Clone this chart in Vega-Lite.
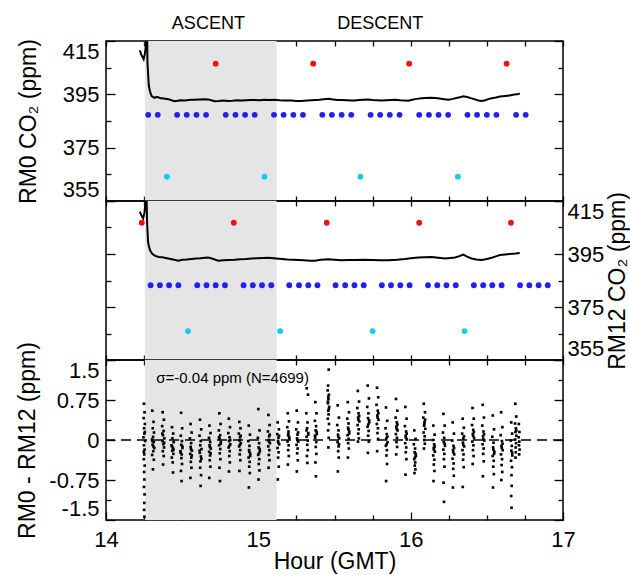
{
"$schema": "https://vega.github.io/schema/vega-lite/v6.json",
"padding": {"left": 16, "top": 13, "right": 0, "bottom": 0},
"bounds": "flush",
"spacing": 0,
"config": {
  "font": "Liberation Sans",
  "view": {"stroke": "black", "strokeWidth": 1.5},
  "axis": {"domain": false, "grid": false, "tickColor": "black", "tickWidth": 1.3, "labelColor": "black", "titleColor": "black", "labelFontSize": 22, "titleFontSize": 23, "titleFontWeight": "normal", "labelOverlap": false, "labelBound": false}
},
"datasets": {
  "phases": [
    {"phase": "ASCENT", "start": 14.255, "end": 15.12, "label_h": 14.672},
    {"phase": "DESCENT", "start": 15.12, "end": 16.72, "label_h": 15.80}
  ],
  "rm0_line": [
    {"h":14.222,"co2":411.5},{"h":14.232,"co2":409.8},{"h":14.247,"co2":408.2},{"h":14.256,"co2":410.5},{"h":14.262,"co2":413.5},{"h":14.266,"co2":417},{"h":14.270,"co2":419},{"h":14.272,"co2":407},{"h":14.281,"co2":398.2},{"h":14.290,"co2":395.8},{"h":14.300,"co2":394.3},{"h":14.317,"co2":393.7},{"h":14.330,"co2":394.0},{"h":14.343,"co2":393.9},{"h":14.360,"co2":393.5},{"h":14.380,"co2":393.4},{"h":14.409,"co2":393.2},{"h":14.430,"co2":392.8},{"h":14.452,"co2":392.4},{"h":14.470,"co2":392.6},{"h":14.490,"co2":392.8},{"h":14.518,"co2":392.7},{"h":14.540,"co2":392.9},{"h":14.560,"co2":393.0},{"h":14.584,"co2":393.0},{"h":14.610,"co2":393.1},{"h":14.640,"co2":393.2},{"h":14.672,"co2":393.1},{"h":14.690,"co2":392.8},{"h":14.715,"co2":392.4},{"h":14.740,"co2":392.5},{"h":14.770,"co2":392.7},{"h":14.803,"co2":392.5},{"h":14.830,"co2":392.6},{"h":14.860,"co2":392.8},{"h":14.890,"co2":392.7},{"h":14.920,"co2":392.8},{"h":14.950,"co2":392.9},{"h":14.978,"co2":392.9},{"h":15.010,"co2":392.8},{"h":15.040,"co2":393.0},{"h":15.070,"co2":392.9},{"h":15.109,"co2":393.0},{"h":15.140,"co2":392.8},{"h":15.170,"co2":392.7},{"h":15.219,"co2":392.7},{"h":15.250,"co2":392.5},{"h":15.284,"co2":392.5},{"h":15.320,"co2":392.7},{"h":15.350,"co2":392.8},{"h":15.372,"co2":392.9},{"h":15.400,"co2":393.0},{"h":15.430,"co2":393.2},{"h":15.460,"co2":393.3},{"h":15.490,"co2":393.1},{"h":15.520,"co2":392.9},{"h":15.547,"co2":392.9},{"h":15.580,"co2":392.8},{"h":15.610,"co2":392.7},{"h":15.634,"co2":392.7},{"h":15.660,"co2":392.9},{"h":15.690,"co2":393.0},{"h":15.722,"co2":393.1},{"h":15.750,"co2":392.9},{"h":15.780,"co2":392.8},{"h":15.809,"co2":392.7},{"h":15.840,"co2":392.8},{"h":15.870,"co2":392.9},{"h":15.897,"co2":393.0},{"h":15.930,"co2":392.8},{"h":15.960,"co2":392.7},{"h":15.985,"co2":392.6},{"h":16.010,"co2":393.0},{"h":16.040,"co2":393.3},{"h":16.072,"co2":393.5},{"h":16.100,"co2":393.6},{"h":16.130,"co2":393.7},{"h":16.160,"co2":393.6},{"h":16.190,"co2":393.4},{"h":16.220,"co2":393.2},{"h":16.248,"co2":393.0},{"h":16.270,"co2":393.2},{"h":16.300,"co2":393.6},{"h":16.330,"co2":394.0},{"h":16.346,"co2":394.3},{"h":16.370,"co2":394.0},{"h":16.400,"co2":393.5},{"h":16.422,"co2":393.1},{"h":16.445,"co2":392.7},{"h":16.466,"co2":392.5},{"h":16.490,"co2":392.8},{"h":16.510,"co2":393.2},{"h":16.532,"co2":393.5},{"h":16.560,"co2":393.8},{"h":16.586,"co2":394.2},{"h":16.620,"co2":394.4},{"h":16.650,"co2":394.6},{"h":16.680,"co2":394.9},{"h":16.700,"co2":395.0},{"h":16.716,"co2":395.3}
  ],
  "rm12_line": [
    {"h":14.222,"co2":411.0},{"h":14.233,"co2":409.5},{"h":14.244,"co2":408.4},{"h":14.252,"co2":410.5},{"h":14.258,"co2":413.5},{"h":14.262,"co2":416},{"h":14.266,"co2":417},{"h":14.270,"co2":406.5},{"h":14.276,"co2":399.6},{"h":14.282,"co2":397.8},{"h":14.290,"co2":396.3},{"h":14.302,"co2":395.2},{"h":14.320,"co2":394.4},{"h":14.345,"co2":393.9},{"h":14.370,"co2":393.8},{"h":14.400,"co2":393.4},{"h":14.440,"co2":392.9},{"h":14.475,"co2":392.5},{"h":14.500,"co2":392.8},{"h":14.530,"co2":392.9},{"h":14.562,"co2":393.1},{"h":14.590,"co2":393.3},{"h":14.620,"co2":393.4},{"h":14.650,"co2":393.6},{"h":14.672,"co2":393.7},{"h":14.700,"co2":393.2},{"h":14.737,"co2":392.5},{"h":14.770,"co2":392.6},{"h":14.800,"co2":392.7},{"h":14.846,"co2":392.8},{"h":14.880,"co2":393.0},{"h":14.920,"co2":393.1},{"h":14.956,"co2":393.3},{"h":14.990,"co2":393.4},{"h":15.030,"co2":393.5},{"h":15.066,"co2":393.6},{"h":15.100,"co2":393.4},{"h":15.153,"co2":393.1},{"h":15.190,"co2":392.9},{"h":15.230,"co2":392.8},{"h":15.263,"co2":392.7},{"h":15.300,"co2":392.6},{"h":15.340,"co2":392.5},{"h":15.372,"co2":392.5},{"h":15.410,"co2":392.8},{"h":15.460,"co2":393.0},{"h":15.500,"co2":392.8},{"h":15.547,"co2":392.6},{"h":15.590,"co2":392.7},{"h":15.634,"co2":392.7},{"h":15.690,"co2":392.8},{"h":15.744,"co2":392.7},{"h":15.800,"co2":392.6},{"h":15.854,"co2":392.6},{"h":15.910,"co2":392.8},{"h":15.963,"co2":393.1},{"h":16.000,"co2":393.4},{"h":16.051,"co2":393.7},{"h":16.090,"co2":393.8},{"h":16.138,"co2":393.9},{"h":16.180,"co2":393.6},{"h":16.225,"co2":393.3},{"h":16.260,"co2":393.5},{"h":16.291,"co2":393.7},{"h":16.320,"co2":394.2},{"h":16.346,"co2":394.8},{"h":16.370,"co2":394.0},{"h":16.400,"co2":393.3},{"h":16.430,"co2":392.9},{"h":16.466,"co2":392.7},{"h":16.500,"co2":393.1},{"h":16.532,"co2":393.6},{"h":16.560,"co2":394.1},{"h":16.586,"co2":394.6},{"h":16.620,"co2":394.8},{"h":16.650,"co2":395.0},{"h":16.690,"co2":395.2},{"h":16.716,"co2":395.4}
  ],
  "cal": [
    {"analyzer":"RM0","tank":"high","h":14.72,"co2":406.5},{"analyzer":"RM0","tank":"high","h":15.36,"co2":406.5},{"analyzer":"RM0","tank":"high","h":15.99,"co2":406.5},{"analyzer":"RM0","tank":"high","h":16.63,"co2":406.5},
    {"analyzer":"RM0","tank":"low","h":14.40,"co2":364.1},{"analyzer":"RM0","tank":"low","h":15.04,"co2":364.1},{"analyzer":"RM0","tank":"low","h":15.67,"co2":364.1},{"analyzer":"RM0","tank":"low","h":16.31,"co2":364.1},
    {"analyzer":"RM0","tank":"ref","h":14.277,"co2":387.3},{"analyzer":"RM0","tank":"ref","h":14.340,"co2":387.3},{"analyzer":"RM0","tank":"ref","h":14.467,"co2":387.3},{"analyzer":"RM0","tank":"ref","h":14.530,"co2":387.3},{"analyzer":"RM0","tank":"ref","h":14.594,"co2":387.3},{"analyzer":"RM0","tank":"ref","h":14.657,"co2":387.3},{"analyzer":"RM0","tank":"ref","h":14.786,"co2":387.3},{"analyzer":"RM0","tank":"ref","h":14.850,"co2":387.3},{"analyzer":"RM0","tank":"ref","h":14.913,"co2":387.3},{"analyzer":"RM0","tank":"ref","h":14.976,"co2":387.3},{"analyzer":"RM0","tank":"ref","h":15.103,"co2":387.3},{"analyzer":"RM0","tank":"ref","h":15.166,"co2":387.3},{"analyzer":"RM0","tank":"ref","h":15.230,"co2":387.3},{"analyzer":"RM0","tank":"ref","h":15.293,"co2":387.3},{"analyzer":"RM0","tank":"ref","h":15.420,"co2":387.3},{"analyzer":"RM0","tank":"ref","h":15.483,"co2":387.3},{"analyzer":"RM0","tank":"ref","h":15.547,"co2":387.3},{"analyzer":"RM0","tank":"ref","h":15.610,"co2":387.3},{"analyzer":"RM0","tank":"ref","h":15.737,"co2":387.3},{"analyzer":"RM0","tank":"ref","h":15.800,"co2":387.3},{"analyzer":"RM0","tank":"ref","h":15.863,"co2":387.3},{"analyzer":"RM0","tank":"ref","h":15.927,"co2":387.3},{"analyzer":"RM0","tank":"ref","h":16.056,"co2":387.3},{"analyzer":"RM0","tank":"ref","h":16.120,"co2":387.3},{"analyzer":"RM0","tank":"ref","h":16.183,"co2":387.3},{"analyzer":"RM0","tank":"ref","h":16.246,"co2":387.3},{"analyzer":"RM0","tank":"ref","h":16.373,"co2":387.3},{"analyzer":"RM0","tank":"ref","h":16.436,"co2":387.3},{"analyzer":"RM0","tank":"ref","h":16.500,"co2":387.3},{"analyzer":"RM0","tank":"ref","h":16.563,"co2":387.3},{"analyzer":"RM0","tank":"ref","h":16.692,"co2":387.3},{"analyzer":"RM0","tank":"ref","h":16.755,"co2":387.3},
    {"analyzer":"RM12","tank":"high","h":14.235,"co2":406.8},{"analyzer":"RM12","tank":"high","h":14.839,"co2":406.8},{"analyzer":"RM12","tank":"high","h":15.449,"co2":406.8},{"analyzer":"RM12","tank":"high","h":16.056,"co2":406.8},{"analyzer":"RM12","tank":"high","h":16.658,"co2":406.8},
    {"analyzer":"RM12","tank":"low","h":14.538,"co2":365.9},{"analyzer":"RM12","tank":"low","h":15.143,"co2":365.9},{"analyzer":"RM12","tank":"low","h":15.750,"co2":365.9},{"analyzer":"RM12","tank":"low","h":16.354,"co2":365.9},
    {"analyzer":"RM12","tank":"ref","h":14.293,"co2":383.2},{"analyzer":"RM12","tank":"ref","h":14.354,"co2":383.2},{"analyzer":"RM12","tank":"ref","h":14.414,"co2":383.2},{"analyzer":"RM12","tank":"ref","h":14.475,"co2":383.2},{"analyzer":"RM12","tank":"ref","h":14.599,"co2":383.2},{"analyzer":"RM12","tank":"ref","h":14.660,"co2":383.2},{"analyzer":"RM12","tank":"ref","h":14.720,"co2":383.2},{"analyzer":"RM12","tank":"ref","h":14.781,"co2":383.2},{"analyzer":"RM12","tank":"ref","h":14.903,"co2":383.2},{"analyzer":"RM12","tank":"ref","h":14.964,"co2":383.2},{"analyzer":"RM12","tank":"ref","h":15.024,"co2":383.2},{"analyzer":"RM12","tank":"ref","h":15.085,"co2":383.2},{"analyzer":"RM12","tank":"ref","h":15.203,"co2":383.2},{"analyzer":"RM12","tank":"ref","h":15.267,"co2":383.2},{"analyzer":"RM12","tank":"ref","h":15.328,"co2":383.2},{"analyzer":"RM12","tank":"ref","h":15.388,"co2":383.2},{"analyzer":"RM12","tank":"ref","h":15.507,"co2":383.2},{"analyzer":"RM12","tank":"ref","h":15.570,"co2":383.2},{"analyzer":"RM12","tank":"ref","h":15.631,"co2":383.2},{"analyzer":"RM12","tank":"ref","h":15.692,"co2":383.2},{"analyzer":"RM12","tank":"ref","h":15.811,"co2":383.2},{"analyzer":"RM12","tank":"ref","h":15.871,"co2":383.2},{"analyzer":"RM12","tank":"ref","h":15.932,"co2":383.2},{"analyzer":"RM12","tank":"ref","h":15.993,"co2":383.2},{"analyzer":"RM12","tank":"ref","h":16.114,"co2":383.2},{"analyzer":"RM12","tank":"ref","h":16.175,"co2":383.2},{"analyzer":"RM12","tank":"ref","h":16.235,"co2":383.2},{"analyzer":"RM12","tank":"ref","h":16.296,"co2":383.2},{"analyzer":"RM12","tank":"ref","h":16.415,"co2":383.2},{"analyzer":"RM12","tank":"ref","h":16.476,"co2":383.2},{"analyzer":"RM12","tank":"ref","h":16.536,"co2":383.2},{"analyzer":"RM12","tank":"ref","h":16.597,"co2":383.2},{"analyzer":"RM12","tank":"ref","h":16.718,"co2":383.2},{"analyzer":"RM12","tank":"ref","h":16.779,"co2":383.2},{"analyzer":"RM12","tank":"ref","h":16.840,"co2":383.2},{"analyzer":"RM12","tank":"ref","h":16.900,"co2":383.2}
  ],
  "zero": [{"d": 0}],
  "note": [{"label": "σ=-0.04 ppm (N=4699)"}],
  "diff": [
    {"h":14.249,"d":0.68},{"h":14.253,"d":0.52},{"h":14.247,"d":0.41},{"h":14.255,"d":0.30},{"h":14.250,"d":0.22},{"h":14.252,"d":0.12},{"h":14.246,"d":0.05},{"h":14.256,"d":-0.02},{"h":14.249,"d":-0.10},{"h":14.253,"d":-0.18},{"h":14.251,"d":-0.27},{"h":14.248,"d":-0.36},{"h":14.254,"d":-0.48},{"h":14.250,"d":-0.60},{"h":14.252,"d":-0.74},{"h":14.249,"d":-0.88},{"h":14.253,"d":-1.02},{"h":14.251,"d":-1.18},{"h":14.250,"d":-1.31},{"h":14.252,"d":-1.44},{"h":14.248,"d":-0.22},{"h":14.255,"d":0.15},
    {"h":14.304,"d":0.55},{"h":14.312,"d":0.34},{"h":14.307,"d":0.22},{"h":14.315,"d":0.14},{"h":14.309,"d":0.06},{"h":14.302,"d":0.01},{"h":14.313,"d":-0.04},{"h":14.306,"d":-0.09},{"h":14.317,"d":-0.15},{"h":14.310,"d":-0.21},{"h":14.303,"d":-0.28},{"h":14.314,"d":-0.37},{"h":14.308,"d":-0.55},{"h":14.311,"d":-0.12},{"h":14.305,"d":-0.02},
    {"h":14.372,"d":0.52},{"h":14.380,"d":0.38},{"h":14.369,"d":0.26},{"h":14.378,"d":0.17},{"h":14.374,"d":0.09},{"h":14.383,"d":0.03},{"h":14.371,"d":-0.02},{"h":14.377,"d":-0.08},{"h":14.381,"d":-0.14},{"h":14.373,"d":-0.21},{"h":14.379,"d":-0.30},{"h":14.375,"d":-0.46},{"h":14.370,"d":0.12},{"h":14.382,"d":-0.05},
    {"h":14.433,"d":0.24},{"h":14.441,"d":0.12},{"h":14.436,"d":0.03},{"h":14.444,"d":-0.04},{"h":14.430,"d":-0.10},{"h":14.439,"d":-0.15},{"h":14.435,"d":-0.20},{"h":14.442,"d":-0.26},{"h":14.432,"d":-0.33},{"h":14.438,"d":-0.42},{"h":14.440,"d":-0.61},{"h":14.434,"d":-0.12},{"h":14.443,"d":-0.18},
    {"h":14.493,"d":0.51},{"h":14.500,"d":0.22},{"h":14.491,"d":0.08},{"h":14.498,"d":-0.02},{"h":14.494,"d":-0.09},{"h":14.502,"d":-0.15},{"h":14.489,"d":-0.21},{"h":14.497,"d":-0.27},{"h":14.495,"d":-0.34},{"h":14.499,"d":-0.45},{"h":14.492,"d":-0.58},{"h":14.496,"d":-0.77},{"h":14.501,"d":-0.12},{"h":14.490,"d":-0.24},
    {"h":14.555,"d":0.30},{"h":14.562,"d":0.14},{"h":14.551,"d":0.03},{"h":14.559,"d":-0.06},{"h":14.556,"d":-0.13},{"h":14.564,"d":-0.20},{"h":14.553,"d":-0.26},{"h":14.560,"d":-0.33},{"h":14.557,"d":-0.41},{"h":14.561,"d":-0.52},{"h":14.554,"d":-0.71},{"h":14.558,"d":-0.17},{"h":14.563,"d":-0.29},
    {"h":14.617,"d":0.38},{"h":14.625,"d":0.20},{"h":14.614,"d":0.08},{"h":14.622,"d":-0.02},{"h":14.619,"d":-0.10},{"h":14.627,"d":-0.17},{"h":14.616,"d":-0.24},{"h":14.623,"d":-0.31},{"h":14.620,"d":-0.40},{"h":14.618,"d":-0.52},{"h":14.624,"d":-0.66},{"h":14.621,"d":-0.86},{"h":14.615,"d":-0.20},{"h":14.626,"d":-0.35},
    {"h":14.679,"d":0.27},{"h":14.686,"d":0.13},{"h":14.676,"d":0.04},{"h":14.684,"d":-0.04},{"h":14.680,"d":-0.10},{"h":14.688,"d":-0.16},{"h":14.677,"d":-0.22},{"h":14.683,"d":-0.29},{"h":14.681,"d":-0.38},{"h":14.685,"d":-0.50},{"h":14.678,"d":-0.71},{"h":14.682,"d":-0.13},{"h":14.687,"d":-0.25},
    {"h":14.744,"d":0.50},{"h":14.752,"d":0.30},{"h":14.741,"d":0.18},{"h":14.749,"d":0.09},{"h":14.746,"d":0.02},{"h":14.754,"d":-0.04},{"h":14.743,"d":-0.10},{"h":14.750,"d":-0.17},{"h":14.747,"d":-0.25},{"h":14.751,"d":-0.36},{"h":14.745,"d":-0.52},{"h":14.748,"d":-0.77},{"h":14.753,"d":-0.07},{"h":14.742,"d":0.05},
    {"h":14.806,"d":0.40},{"h":14.814,"d":0.24},{"h":14.803,"d":0.13},{"h":14.811,"d":0.05},{"h":14.808,"d":-0.02},{"h":14.816,"d":-0.08},{"h":14.805,"d":-0.14},{"h":14.812,"d":-0.21},{"h":14.809,"d":-0.30},{"h":14.813,"d":-0.42},{"h":14.807,"d":-0.59},{"h":14.810,"d":-0.11},{"h":14.815,"d":0.00},
    {"h":14.875,"d":0.34},{"h":14.883,"d":0.22},{"h":14.872,"d":0.12},{"h":14.880,"d":0.05},{"h":14.877,"d":-0.01},{"h":14.885,"d":-0.06},{"h":14.874,"d":-0.12},{"h":14.881,"d":-0.19},{"h":14.878,"d":-0.27},{"h":14.882,"d":-0.38},{"h":14.876,"d":-0.58},{"h":14.879,"d":-0.09},{"h":14.884,"d":0.08},
    {"h":14.937,"d":0.27},{"h":14.945,"d":0.10},{"h":14.934,"d":-0.02},{"h":14.942,"d":-0.11},{"h":14.939,"d":-0.19},{"h":14.947,"d":-0.26},{"h":14.936,"d":-0.33},{"h":14.943,"d":-0.41},{"h":14.940,"d":-0.50},{"h":14.944,"d":-0.62},{"h":14.938,"d":-0.89},{"h":14.941,"d":-0.22},{"h":14.946,"d":-0.30},
    {"h":15.000,"d":0.58},{"h":15.008,"d":0.18},{"h":14.997,"d":0.04},{"h":15.005,"d":-0.06},{"h":15.002,"d":-0.14},{"h":15.010,"d":-0.21},{"h":14.999,"d":-0.28},{"h":15.006,"d":-0.36},{"h":15.003,"d":-0.45},{"h":15.007,"d":-0.57},{"h":15.001,"d":-0.74},{"h":15.004,"d":-0.25},{"h":15.009,"d":-0.17},
    {"h":15.066,"d":0.47},{"h":15.074,"d":0.28},{"h":15.063,"d":0.16},{"h":15.071,"d":0.07},{"h":15.068,"d":0.00},{"h":15.076,"d":-0.06},{"h":15.065,"d":-0.12},{"h":15.072,"d":-0.19},{"h":15.069,"d":-0.28},{"h":15.073,"d":-0.38},{"h":15.067,"d":-0.52},{"h":15.070,"d":-0.03},{"h":15.075,"d":0.10},
    {"h":15.127,"d":0.33},{"h":15.135,"d":0.20},{"h":15.124,"d":0.11},{"h":15.132,"d":0.04},{"h":15.129,"d":-0.02},{"h":15.137,"d":-0.08},{"h":15.126,"d":-0.15},{"h":15.133,"d":-0.23},{"h":15.130,"d":-0.33},{"h":15.134,"d":-0.50},{"h":15.128,"d":-0.74},{"h":15.131,"d":-0.05},{"h":15.136,"d":0.08},
    {"h":15.193,"d":0.50},{"h":15.201,"d":0.35},{"h":15.190,"d":0.24},{"h":15.198,"d":0.16},{"h":15.195,"d":0.09},{"h":15.203,"d":0.03},{"h":15.192,"d":-0.03},{"h":15.199,"d":-0.10},{"h":15.196,"d":-0.19},{"h":15.200,"d":-0.30},{"h":15.194,"d":-0.46},{"h":15.197,"d":0.12},{"h":15.202,"d":0.06},
    {"h":15.252,"d":0.55},{"h":15.260,"d":0.33},{"h":15.249,"d":0.20},{"h":15.257,"d":0.10},{"h":15.254,"d":0.03},{"h":15.262,"d":-0.03},{"h":15.251,"d":-0.09},{"h":15.258,"d":-0.16},{"h":15.255,"d":-0.25},{"h":15.259,"d":-0.38},{"h":15.253,"d":-0.59},{"h":15.256,"d":0.00},{"h":15.261,"d":0.14},
    {"h":15.318,"d":0.97},{"h":15.326,"d":0.85},{"h":15.315,"d":0.50},{"h":15.323,"d":0.33},{"h":15.320,"d":0.22},{"h":15.328,"d":0.13},{"h":15.317,"d":0.06},{"h":15.324,"d":-0.01},{"h":15.321,"d":-0.09},{"h":15.325,"d":-0.19},{"h":15.319,"d":-0.30},{"h":15.322,"d":-0.43},{"h":15.327,"d":0.10},{"h":15.316,"d":0.18},
    {"h":15.374,"d":0.71},{"h":15.382,"d":0.50},{"h":15.371,"d":0.36},{"h":15.379,"d":0.26},{"h":15.376,"d":0.18},{"h":15.384,"d":0.11},{"h":15.373,"d":0.04},{"h":15.380,"d":-0.04},{"h":15.377,"d":-0.13},{"h":15.381,"d":-0.26},{"h":15.375,"d":-0.42},{"h":15.378,"d":-0.68},{"h":15.383,"d":0.15},{"h":15.372,"d":0.08},
    {"h":15.462,"d":1.32},{"h":15.458,"d":1.02},{"h":15.455,"d":0.93},{"h":15.463,"d":0.85},{"h":15.460,"d":0.77},{"h":15.457,"d":0.69},{"h":15.465,"d":0.62},{"h":15.459,"d":0.55},{"h":15.461,"d":0.48},{"h":15.456,"d":0.40},{"h":15.464,"d":0.30},{"h":15.458,"d":0.18},{"h":15.462,"d":0.04},{"h":15.460,"d":-0.14},{"h":15.457,"d":0.72},{"h":15.463,"d":0.58},{"h":15.459,"d":0.81},
    {"h":15.521,"d":0.65},{"h":15.529,"d":0.42},{"h":15.518,"d":0.28},{"h":15.526,"d":0.18},{"h":15.523,"d":0.10},{"h":15.531,"d":0.03},{"h":15.520,"d":-0.04},{"h":15.527,"d":-0.12},{"h":15.524,"d":-0.21},{"h":15.528,"d":-0.33},{"h":15.522,"d":-0.59},{"h":15.525,"d":0.06},{"h":15.530,"d":-0.08},
    {"h":15.587,"d":0.71},{"h":15.595,"d":0.52},{"h":15.584,"d":0.40},{"h":15.592,"d":0.31},{"h":15.589,"d":0.23},{"h":15.597,"d":0.16},{"h":15.586,"d":0.09},{"h":15.593,"d":0.02},{"h":15.590,"d":-0.06},{"h":15.594,"d":-0.16},{"h":15.588,"d":-0.33},{"h":15.591,"d":0.20},{"h":15.596,"d":0.12},
    {"h":15.653,"d":0.92},{"h":15.661,"d":0.72},{"h":15.650,"d":0.60},{"h":15.658,"d":0.50},{"h":15.655,"d":0.42},{"h":15.663,"d":0.35},{"h":15.652,"d":0.28},{"h":15.659,"d":0.20},{"h":15.656,"d":0.12},{"h":15.660,"d":0.03},{"h":15.654,"d":-0.03},{"h":15.657,"d":0.38},{"h":15.662,"d":0.45},
    {"h":15.718,"d":1.02},{"h":15.726,"d":0.78},{"h":15.715,"d":0.62},{"h":15.723,"d":0.50},{"h":15.720,"d":0.41},{"h":15.728,"d":0.33},{"h":15.717,"d":0.25},{"h":15.724,"d":0.17},{"h":15.721,"d":0.08},{"h":15.725,"d":-0.03},{"h":15.719,"d":-0.24},{"h":15.722,"d":0.29},{"h":15.727,"d":0.37},
    {"h":15.779,"d":0.98},{"h":15.787,"d":0.80},{"h":15.776,"d":0.66},{"h":15.784,"d":0.55},{"h":15.781,"d":0.46},{"h":15.789,"d":0.38},{"h":15.778,"d":0.30},{"h":15.785,"d":0.22},{"h":15.782,"d":0.13},{"h":15.786,"d":0.02},{"h":15.780,"d":-0.21},{"h":15.783,"d":0.42},{"h":15.788,"d":0.50},
    {"h":15.838,"d":0.61},{"h":15.846,"d":0.36},{"h":15.835,"d":0.22},{"h":15.843,"d":0.11},{"h":15.840,"d":0.03},{"h":15.848,"d":-0.04},{"h":15.837,"d":-0.11},{"h":15.844,"d":-0.19},{"h":15.841,"d":-0.29},{"h":15.845,"d":-0.45},{"h":15.839,"d":-0.77},{"h":15.842,"d":-0.08},{"h":15.847,"d":0.06},
    {"h":15.904,"d":0.77},{"h":15.912,"d":0.55},{"h":15.901,"d":0.42},{"h":15.909,"d":0.33},{"h":15.906,"d":0.25},{"h":15.914,"d":0.18},{"h":15.903,"d":0.11},{"h":15.910,"d":0.04},{"h":15.907,"d":-0.04},{"h":15.911,"d":-0.13},{"h":15.905,"d":-0.27},{"h":15.908,"d":0.21},{"h":15.913,"d":0.29},
    {"h":15.965,"d":0.62},{"h":15.973,"d":0.40},{"h":15.962,"d":0.26},{"h":15.970,"d":0.16},{"h":15.967,"d":0.08},{"h":15.975,"d":0.01},{"h":15.964,"d":-0.06},{"h":15.971,"d":-0.14},{"h":15.968,"d":-0.23},{"h":15.972,"d":-0.36},{"h":15.966,"d":-0.65},{"h":15.969,"d":0.04},{"h":15.974,"d":0.12},
    {"h":16.024,"d":0.18},{"h":16.032,"d":0.02},{"h":16.021,"d":-0.08},{"h":16.029,"d":-0.16},{"h":16.026,"d":-0.23},{"h":16.034,"d":-0.30},{"h":16.023,"d":-0.36},{"h":16.030,"d":-0.42},{"h":16.027,"d":-0.48},{"h":16.031,"d":-0.55},{"h":16.025,"d":-0.62},{"h":16.028,"d":-0.33},{"h":16.033,"d":-0.26},
    {"h":16.086,"d":0.68},{"h":16.094,"d":0.52},{"h":16.083,"d":0.42},{"h":16.091,"d":0.34},{"h":16.088,"d":0.27},{"h":16.096,"d":0.21},{"h":16.085,"d":0.14},{"h":16.092,"d":0.07},{"h":16.089,"d":0.00},{"h":16.093,"d":-0.07},{"h":16.087,"d":-0.16},{"h":16.090,"d":0.30},{"h":16.095,"d":0.38},
    {"h":16.149,"d":0.27},{"h":16.157,"d":0.10},{"h":16.146,"d":0.00},{"h":16.154,"d":-0.08},{"h":16.151,"d":-0.15},{"h":16.159,"d":-0.22},{"h":16.148,"d":-0.29},{"h":16.155,"d":-0.37},{"h":16.152,"d":-0.46},{"h":16.156,"d":-0.58},{"h":16.150,"d":-0.77},{"h":16.153,"d":-0.18},{"h":16.158,"d":-0.12},
    {"h":16.215,"d":0.49},{"h":16.223,"d":0.27},{"h":16.212,"d":0.14},{"h":16.220,"d":0.04},{"h":16.217,"d":-0.04},{"h":16.225,"d":-0.11},{"h":16.214,"d":-0.18},{"h":16.221,"d":-0.26},{"h":16.218,"d":-0.36},{"h":16.222,"d":-0.50},{"h":16.216,"d":-0.80},{"h":16.219,"d":-1.16},{"h":16.224,"d":-0.07},
    {"h":16.276,"d":0.33},{"h":16.284,"d":0.12},{"h":16.273,"d":-0.01},{"h":16.281,"d":-0.11},{"h":16.278,"d":-0.19},{"h":16.286,"d":-0.27},{"h":16.275,"d":-0.35},{"h":16.282,"d":-0.44},{"h":16.279,"d":-0.54},{"h":16.283,"d":-0.67},{"h":16.277,"d":-0.89},{"h":16.280,"d":-0.23},{"h":16.285,"d":-0.15},
    {"h":16.341,"d":0.40},{"h":16.349,"d":0.23},{"h":16.338,"d":0.12},{"h":16.346,"d":0.03},{"h":16.343,"d":-0.05},{"h":16.351,"d":-0.12},{"h":16.340,"d":-0.19},{"h":16.347,"d":-0.27},{"h":16.344,"d":-0.37},{"h":16.348,"d":-0.51},{"h":16.342,"d":-0.88},{"h":16.345,"d":-0.09},{"h":16.350,"d":0.07},
    {"h":16.406,"d":0.60},{"h":16.414,"d":0.40},{"h":16.403,"d":0.28},{"h":16.411,"d":0.19},{"h":16.408,"d":0.11},{"h":16.416,"d":0.04},{"h":16.405,"d":-0.03},{"h":16.412,"d":-0.10},{"h":16.409,"d":-0.19},{"h":16.413,"d":-0.30},{"h":16.407,"d":-0.45},{"h":16.410,"d":0.08},{"h":16.415,"d":0.15},
    {"h":16.473,"d":0.66},{"h":16.481,"d":0.42},{"h":16.470,"d":0.27},{"h":16.478,"d":0.16},{"h":16.475,"d":0.07},{"h":16.483,"d":-0.01},{"h":16.472,"d":-0.08},{"h":16.479,"d":-0.16},{"h":16.476,"d":-0.26},{"h":16.480,"d":-0.40},{"h":16.474,"d":-0.68},{"h":16.477,"d":0.02},{"h":16.482,"d":0.11},
    {"h":16.539,"d":0.46},{"h":16.547,"d":0.20},{"h":16.536,"d":0.06},{"h":16.544,"d":-0.05},{"h":16.541,"d":-0.14},{"h":16.549,"d":-0.22},{"h":16.538,"d":-0.30},{"h":16.545,"d":-0.39},{"h":16.542,"d":-0.50},{"h":16.546,"d":-0.64},{"h":16.540,"d":-0.89},{"h":16.543,"d":-0.18},{"h":16.548,"d":-0.26},
    {"h":16.594,"d":0.52},{"h":16.602,"d":0.24},{"h":16.591,"d":0.09},{"h":16.599,"d":-0.02},{"h":16.596,"d":-0.11},{"h":16.604,"d":-0.19},{"h":16.593,"d":-0.27},{"h":16.600,"d":-0.36},{"h":16.597,"d":-0.47},{"h":16.601,"d":-0.60},{"h":16.595,"d":-0.75},{"h":16.598,"d":-0.15},{"h":16.603,"d":-0.07},
    {"h":16.660,"d":0.33},{"h":16.666,"d":0.12},{"h":16.657,"d":-0.01},{"h":16.664,"d":-0.11},{"h":16.661,"d":-0.20},{"h":16.667,"d":-0.29},{"h":16.659,"d":-0.39},{"h":16.665,"d":-0.51},{"h":16.662,"d":-0.66},{"h":16.663,"d":-0.86},{"h":16.660,"d":-1.05},{"h":16.662,"d":-1.27},{"h":16.666,"d":-0.24},
    {"h":16.687,"d":0.68},{"h":16.693,"d":0.44},{"h":16.685,"d":0.31},{"h":16.691,"d":0.22},{"h":16.688,"d":0.15},{"h":16.694,"d":0.08},{"h":16.686,"d":0.01},{"h":16.692,"d":-0.06},{"h":16.689,"d":-0.14},{"h":16.690,"d":-0.23},{"h":16.688,"d":-0.33},{"h":16.693,"d":0.18},
    {"h":16.710,"d":0.30},{"h":16.714,"d":0.15},{"h":16.709,"d":0.05},{"h":16.713,"d":-0.03},{"h":16.711,"d":-0.10},{"h":16.715,"d":-0.18},{"h":16.712,"d":-0.27}
  ]
},
"vconcat": [
  {
    "width": 457, "height": 160,
    "resolve": {"axis": {"x": "independent", "y": "independent"}},
    "layer": [
      {
        "data": {"name": "phases"},
        "transform": [{"filter": "datum.phase == 'ASCENT'"}],
        "mark": {"type": "rect", "color": "#e5e5e5"},
        "encoding": {
          "x": {"field": "start", "type": "quantitative", "scale": {"domain": [14, 17], "nice": false},
                "axis": {"orient": "top", "values": [14,14.25,14.5,14.75,15,15.25,15.5,15.75,16,16.25,16.5,16.75,17], "labels": false, "title": null, "tickSize": -5}},
          "x2": {"field": "end"}
        }
      },
      {
        "data": {"name": "phases"},
        "mark": {"type": "text", "fontSize": 18, "baseline": "middle", "align": "center", "color": "black"},
        "encoding": {
          "x": {"field": "label_h", "type": "quantitative", "scale": {"domain": [14, 17], "nice": false}, "axis": null},
          "y": {"datum": 421.5, "type": "quantitative", "scale": {"domain": [355, 415], "nice": false}, "axis": null},
          "text": {"field": "phase"}
        }
      },
      {
        "data": {"name": "rm0_line"},
        "mark": {"type": "line", "color": "black", "strokeWidth": 2, "clip": true},
        "encoding": {
          "x": {"field": "h", "type": "quantitative", "scale": {"domain": [14, 17], "nice": false},
                "axis": {"orient": "bottom", "values": [14,14.25,14.5,14.75,15,15.25,15.5,15.75,16,16.25,16.5,16.75,17], "labels": false, "title": null, "tickSize": -5}},
          "y": {"field": "co2", "type": "quantitative", "scale": {"domain": [355, 415], "nice": false},
                "axis": {"orient": "left", "values": [355,365,375,385,395,405,415],
                         "tickSize": {"condition": {"test": "datum.value % 20 == 15", "value": -9}, "value": -5},
                         "labelExpr": "datum.value % 20 == 15 ? '' + datum.value : ''",
                         "labelFlush": true, "labelPadding": 16, "title": "RM0 CO₂ (ppm)", "titlePadding": 22}}
        }
      },
      {
        "data": {"name": "cal"},
        "transform": [{"filter": "datum.analyzer == 'RM0'"}],
        "mark": {"type": "circle", "size": 34, "opacity": 1},
        "encoding": {
          "x": {"field": "h", "type": "quantitative", "scale": {"domain": [14, 17], "nice": false}, "axis": null},
          "y": {"field": "co2", "type": "quantitative", "scale": {"domain": [355, 415], "nice": false},
                "axis": {"orient": "right", "values": [355,365,375,385,395,405,415], "labels": false, "title": null,
                         "tickSize": {"condition": {"test": "datum.value % 20 == 15", "value": -9}, "value": -5}}},
          "color": {"field": "tank", "type": "nominal", "scale": {"domain": ["high", "ref", "low"], "range": ["#ee1111", "#2121ee", "#12ccee"]}, "legend": null}
        }
      }
    ]
  },
  {
    "width": 457, "height": 159,
    "resolve": {"axis": {"x": "independent", "y": "independent"}},
    "layer": [
      {
        "data": {"name": "phases"},
        "transform": [{"filter": "datum.phase == 'ASCENT'"}],
        "mark": {"type": "rect", "color": "#e5e5e5"},
        "encoding": {
          "x": {"field": "start", "type": "quantitative", "scale": {"domain": [14, 17], "nice": false},
                "axis": {"orient": "top", "values": [14,14.25,14.5,14.75,15,15.25,15.5,15.75,16,16.25,16.5,16.75,17], "labels": false, "title": null, "tickSize": -5}},
          "x2": {"field": "end"}
        }
      },
      {
        "data": {"name": "rm12_line"},
        "mark": {"type": "line", "color": "black", "strokeWidth": 2, "clip": true},
        "encoding": {
          "x": {"field": "h", "type": "quantitative", "scale": {"domain": [14, 17], "nice": false},
                "axis": {"orient": "bottom", "values": [14,14.25,14.5,14.75,15,15.25,15.5,15.75,16,16.25,16.5,16.75,17], "labels": false, "title": null, "tickSize": -5}},
          "y": {"field": "co2", "type": "quantitative", "scale": {"domain": [355, 415], "nice": false},
                "axis": {"orient": "left", "values": [355,365,375,385,395,405,415], "labels": false, "title": null,
                         "tickSize": {"condition": {"test": "datum.value % 20 == 15", "value": -9}, "value": -5}}}
        }
      },
      {
        "data": {"name": "cal"},
        "transform": [{"filter": "datum.analyzer == 'RM12'"}],
        "mark": {"type": "circle", "size": 34, "opacity": 1},
        "encoding": {
          "x": {"field": "h", "type": "quantitative", "scale": {"domain": [14, 17], "nice": false}, "axis": null},
          "y": {"field": "co2", "type": "quantitative", "scale": {"domain": [355, 415], "nice": false},
                "axis": {"orient": "right", "values": [355,365,375,385,395,405,415],
                         "tickSize": {"condition": {"test": "datum.value % 20 == 15", "value": -9}, "value": -5},
                         "labelExpr": "datum.value % 20 == 15 ? '' + datum.value : ''",
                         "labelFlush": true, "labelPadding": 13, "title": "RM12 CO₂ (ppm)", "titleAngle": 270, "titleBaseline": "top", "titlePadding": 3}},
          "color": {"field": "tank", "type": "nominal", "scale": {"domain": ["high", "ref", "low"], "range": ["#ee1111", "#2121ee", "#12ccee"]}, "legend": null}
        }
      }
    ]
  },
  {
    "width": 457, "height": 160,
    "resolve": {"axis": {"x": "independent", "y": "independent"}},
    "layer": [
      {
        "data": {"name": "phases"},
        "transform": [{"filter": "datum.phase == 'ASCENT'"}],
        "mark": {"type": "rect", "color": "#e5e5e5"},
        "encoding": {
          "x": {"field": "start", "type": "quantitative", "scale": {"domain": [14, 17], "nice": false},
                "axis": {"orient": "top", "values": [14,14.25,14.5,14.75,15,15.25,15.5,15.75,16,16.25,16.5,16.75,17], "labels": false, "title": null, "tickSize": -5}},
          "x2": {"field": "end"}
        }
      },
      {
        "data": {"name": "zero"},
        "mark": {"type": "rule", "color": "black", "strokeWidth": 1.4, "strokeDash": [10, 6]},
        "encoding": {
          "y": {"field": "d", "type": "quantitative", "scale": {"domain": [-1.5, 1.5], "nice": false},
                "axis": {"orient": "right", "values": [-1.5,-1.125,-0.75,-0.375,0,0.375,0.75,1.125,1.5], "labels": false, "title": null,
                         "tickSize": {"condition": {"test": "abs(datum.value) % 0.75 == 0", "value": -9}, "value": -5}}}
        }
      },
      {
        "data": {"name": "diff"},
        "mark": {"type": "square", "size": 7, "color": "black", "opacity": 1},
        "encoding": {
          "x": {"field": "h", "type": "quantitative", "scale": {"domain": [14, 17], "nice": false},
                "axis": {"orient": "bottom", "values": [14,14.25,14.5,14.75,15,15.25,15.5,15.75,16,16.25,16.5,16.75,17],
                         "tickSize": {"condition": {"test": "datum.value % 1 == 0", "value": -8}, "value": -5},
                         "labelExpr": "datum.value % 1 == 0 ? '' + datum.value : ''",
                         "labelFlush": false, "labelPadding": 17.5, "title": "Hour (GMT)", "titlePadding": -3.5}},
          "y": {"field": "d", "type": "quantitative", "scale": {"domain": [-1.5, 1.5], "nice": false},
                "axis": {"orient": "left", "values": [-1.5,-1.125,-0.75,-0.375,0,0.375,0.75,1.125,1.5],
                         "tickSize": {"condition": {"test": "abs(datum.value) % 0.75 == 0", "value": -9}, "value": -5},
                         "labelExpr": "abs(datum.value) % 0.75 == 0 ? '' + datum.value : ''",
                         "labelFlush": true, "labelPadding": 16, "title": "RM0 - RM12 (ppm)", "titlePadding": 9}}
        }
      },
      {
        "data": {"name": "note"},
        "mark": {"type": "text", "fontSize": 15, "align": "left", "baseline": "middle", "color": "black"},
        "encoding": {
          "x": {"datum": 14.33, "type": "quantitative", "scale": {"domain": [14, 17], "nice": false}, "axis": null},
          "y": {"datum": 1.17, "type": "quantitative", "scale": {"domain": [-1.5, 1.5], "nice": false}, "axis": null},
          "text": {"field": "label"}
        }
      }
    ]
  }
]
}
